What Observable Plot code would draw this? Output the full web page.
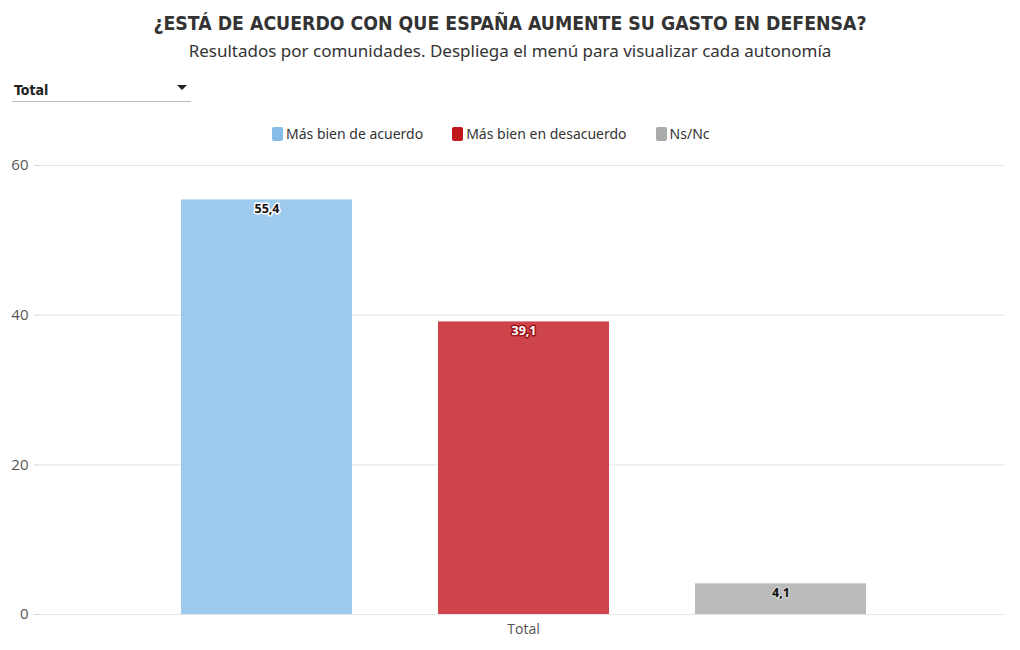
<!DOCTYPE html>
<html>
<head>
<meta charset="utf-8">
<script src="https://cdn.jsdelivr.net/npm/d3@7"></script>
<script src="https://cdn.jsdelivr.net/npm/@observablehq/plot@0.6"></script>
<style>
  body { margin: 0; background: #fff; }
  #wrap { position: relative; width: 1020px; height: 650px; font-family: "Noto Sans", sans-serif; color: #333; }
  #title { position: absolute; top: 12px; left: 0; width: 1020px; text-align: center; font-family: "DejaVu Sans Condensed", sans-serif; font-weight: bold; font-size: 19.3px; color: #333; }
  #subtitle { position: absolute; top: 39px; left: 0; width: 1020px; text-align: center; font-family: "Noto Sans", sans-serif; font-size: 17px; color: #333; }
  #dropdown { position: absolute; top: 80px; left: 12px; width: 179px; height: 21px; border-bottom: 1px solid #bbb; font-family: "DejaVu Sans Condensed", sans-serif; font-weight: bold; font-size: 14px; color: #222; }
  #dropdown span.t { position: absolute; left: 2px; top: 2px; }
  #dropdown span.a { position: absolute; right: 4px; top: 5px; width: 0; height: 0; border-left: 5px solid transparent; border-right: 5px solid transparent; border-top: 5px solid #222; }
  #legend { position: absolute; top: 124px; left: 272px; display: flex; justify-content: flex-start; gap: 29px; font-size: 14px; color: #333; }
  #legend .item { display: flex; align-items: center; gap: 3px; }
  #legend .sw { width: 11px; height: 14px; border-radius: 2px; display: inline-block; }
  #chart { position: absolute; top: 150px; left: 0; }
</style>
</head>
<body>
<div id="wrap">
  <div id="title">¿ESTÁ DE ACUERDO CON QUE ESPAÑA AUMENTE SU GASTO EN DEFENSA?</div>
  <div id="subtitle">Resultados por comunidades. Despliega el menú para visualizar cada autonomía</div>
  <div id="dropdown"><span class="t">Total</span><span class="a"></span></div>
  <div id="legend"></div>
  <div id="chart"></div>
</div>
<script>
const categories = ["Total"];
const series = ["Más bien de acuerdo", "Más bien en desacuerdo", "Ns/Nc"];
const values = [55.4, 39.1, 4.1];
const labels = ["55,4", "39,1", "4,1"];
const colors = ["#85bde9", "#c0171d", "#aaaaaa"];
const yTicks = [0, 20, 40, 60];

const data = series.map((s, i) => ({category: categories[0], series: s, value: values[i], label: labels[i]}));

const legend = document.getElementById("legend");
series.forEach((s, i) => {
  const it = document.createElement("div");
  it.className = "item";
  it.innerHTML = `<span class="sw" style="background:${colors[i]}"></span><span>${s}</span>`;
  legend.appendChild(it);
});

const labelFill = {"Más bien de acuerdo": "#111", "Más bien en desacuerdo": "#fff", "Ns/Nc": "#111"};
const labelStroke = {"Más bien de acuerdo": "#fff", "Más bien en desacuerdo": "#9a1418", "Ns/Nc": "#cfcfcf"};

const chart = Plot.plot({
  width: 1020,
  height: 500,
  marginTop: 15,
  marginBottom: 36,
  marginLeft: 41,
  marginRight: 15,
  style: {fontFamily: "'Open Sans', sans-serif", fontSize: "14px", color: "#555", background: "transparent"},
  fx: {domain: categories, padding: 0, label: null, axis: "bottom", tickSize: 0, tickPadding: 10, fontSize: 14.5},
  x: {domain: series, paddingInner: 0.336, paddingOuter: 0.54, axis: null},
  y: {domain: [0, 60], ticks: yTicks, label: null, tickSize: 0},
  color: {domain: series, range: colors},
  marks: [
    Plot.gridY(yTicks, {stroke: "#e6e6e6", strokeOpacity: 1}),
    Plot.ruleX([0], {frameAnchor: "left", stroke: "#e6e6e6"}),
    Plot.axisY(yTicks, {tickSize: 7, tickPadding: 6, stroke: "#d8d8d8", strokeOpacity: 1, fill: "#555", fontSize: 15, tickFormat: d => d, facetAnchor: "left"}),
    Plot.ruleY([0], {stroke: "#e6e6e6"}),
    Plot.barY(data, {fx: "category", x: "series", y: "value", fill: "series", fillOpacity: 0.8}),
    Plot.text(data, {fx: "category", x: "series", y: "value", text: "label", dy: 9,
      fill: d => labelFill[d.series], stroke: d => labelStroke[d.series], strokeWidth: 3,
      fontWeight: "bold", fontSize: 12.5, fontFamily: "'Open Sans', sans-serif"})
  ]
});
document.getElementById("chart").appendChild(chart);
</script>
</body>
</html>
